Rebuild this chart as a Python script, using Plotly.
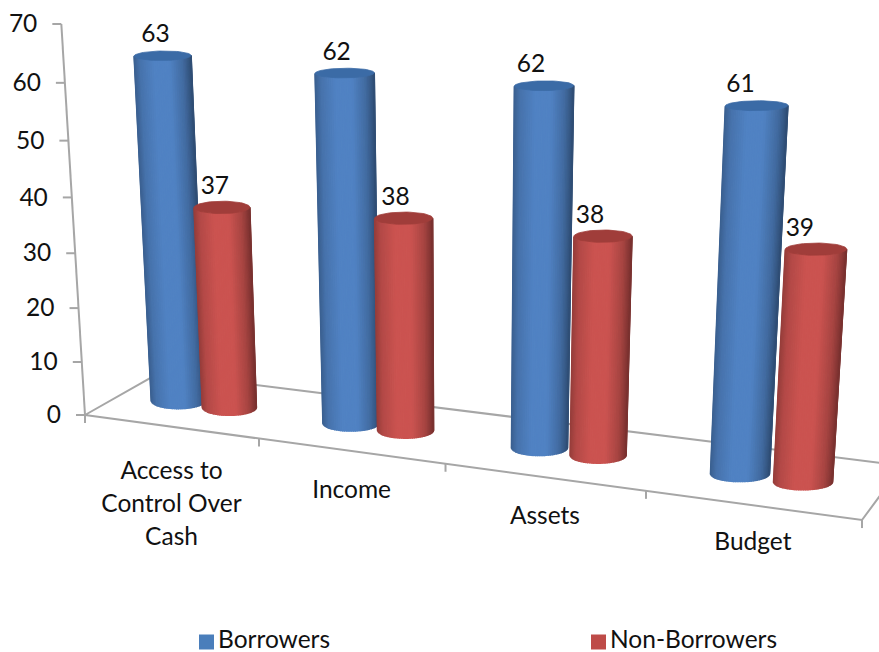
import numpy as np
import plotly.graph_objects as go

categories = ["Access to<br>Control Over<br>Cash", "Income", "Assets", "Budget"]
series_names = ["Borrowers", "Non-Borrowers"]
borrowers = [63, 62, 62, 61]
non_borrowers = [37, 38, 38, 39]
value_ticks = [0, 10, 20, 30, 40, 50, 60, 70]

FONT = "Lato"
FONT_SIZE = 24.5
AXIS_GREY = "#a6a6a6"
BASE_COLORS = [(80, 130, 195), (203, 83, 80)]
TOP_COLORS = ["#3b6ba6", "#a03d3a"]
LEGEND_COLORS = ["#4a7ebb", "#be4b48"]

# Projective camera of the 3-D column chart: category axis, depth, value, origin.
CAMERA = np.array([
    [165.3, 82.9, -0.39, 85.0],
    [8.8, -22.3, -5.606, 415.0],
    [-0.03358, 0.0533, -0.000845, 1.0],
])
CATEGORY_CENTRES = [0.48, 1.47, 2.48, 3.48]
CATEGORY_LABEL_DROP = [46, 41, 41, 39]
VALUE_LABEL_SHIFT = [-7, -8, -13, -16]
BAR_OFFSET = 0.15
RING_HALF_WIDTH = [27.0, 28.0, 28.0, 29.5]
RING_HALF_HEIGHT = 8.0
DEPTH = 0.5


def project(x, depth, z):
    x, depth, z = np.broadcast_arrays(x, depth, z)
    pts = np.stack([x, depth, z, np.ones_like(x, dtype=float)])
    u, v, w = CAMERA @ pts
    return u / w, v / w


def shade(base, u):
    # Lighting across a cylinder's visible face, from its left to its right edge.
    k = np.interp(u, [0, 0.1, 0.35, 0.62, 0.85, 1], [0.74, 0.88, 1.0, 1.0, 0.82, 0.6])
    return "rgb({:.0f},{:.0f},{:.0f})".format(*(c * k for c in base))


fig = go.Figure()


def polygon(xs, ys, color, width=1.6):
    fig.add_trace(go.Scatter(
        x=list(xs), y=list(ys), mode="lines", fill="toself", fillcolor=color,
        line=dict(color=color, width=width), hoverinfo="skip", showlegend=False,
    ))


def line(xs, ys):
    fig.add_trace(go.Scatter(
        x=list(xs), y=list(ys), mode="lines", line=dict(color=AXIS_GREY, width=2),
        hoverinfo="skip", showlegend=False,
    ))


def floor_ring(cx, half_width, t):
    # A floor-level ring that reads as a level ellipse on screen: offsets are
    # pulled back through the camera's local Jacobian on the floor plane.
    eps = 1e-3
    x0, y0 = project(cx, DEPTH, 0.0)
    xa, ya = project(cx + eps, DEPTH, 0.0)
    xb, yb = project(cx, DEPTH + eps, 0.0)
    jac = np.array([[xa - x0, xb - x0], [ya - y0, yb - y0]]) / eps
    offs = np.linalg.solve(jac, np.stack([half_width * np.cos(t), RING_HALF_HEIGHT * np.sin(t)]))
    return cx + offs[0], DEPTH + offs[1]


def cylinder(cx, value, half_width, base, top_color):
    # Front half of the ring runs along the lower side of the ellipse on screen.
    t = np.linspace(np.pi, 0, 41)
    rx, ry = floor_ring(cx, half_width, t)
    bx, by = project(rx, ry, 0.0)
    tx, ty = project(rx, ry, float(value))
    left, right = tx.min(), tx.max()
    for i in range(len(t) - 1):
        qx = [bx[i], bx[i + 1], tx[i + 1], tx[i]]
        qy = [by[i], by[i + 1], ty[i + 1], ty[i]]
        polygon(qx, qy, shade(base, (np.mean(qx[2:]) - left) / (right - left)))
    full = np.linspace(0, 2 * np.pi, 61)
    rx, ry = floor_ring(cx, half_width, full)
    tx, ty = project(rx, ry, float(value))
    polygon(tx, ty, top_color, width=0.8)


# Floor outline and category ticks
ends_x = np.array([0.0, 4.0, 4.0, 0.0, 0.0])
ends_d = np.array([0.0, 0.0, 1.0, 1.0, 0.0])
fx, fy = project(ends_x, ends_d, 0.0)
line(fx, fy)
for c in range(5):
    px, py = project(float(c), 0.0, 0.0)
    line([px, px], [py, py + 8])

# Value axis, ticks and labels
ax, ay = project(0.0, 0.0, np.array(value_ticks, dtype=float))
line(ax, ay)
for px, py in zip(ax, ay):
    line([px - 9, px], [py, py])
fig.add_trace(go.Scatter(
    x=list(ax - 24), y=list(ay + 2), mode="text", text=[str(v) for v in value_ticks],
    textposition="middle left", textfont=dict(family=FONT, size=FONT_SIZE, color="#111111"),
    hoverinfo="skip", showlegend=False, cliponaxis=False,
))

# Columns, painted from the far side of the floor towards the viewer
label_x, label_y, label_text = [], [], []
for c, centre in enumerate(CATEGORY_CENTRES):
    for s, values in enumerate([borrowers, non_borrowers]):
        cx = centre + (2 * s - 1) * BAR_OFFSET
        cylinder(cx, values[c], RING_HALF_WIDTH[c], BASE_COLORS[s], TOP_COLORS[s])
        px, py = project(cx, DEPTH, float(values[c]))
        label_x.append(float(px) + VALUE_LABEL_SHIFT[c])
        label_y.append(float(py) - 19.5)
        label_text.append(str(values[c]))

fig.add_trace(go.Scatter(
    x=label_x, y=label_y, mode="text", text=label_text, textposition="middle center",
    textfont=dict(family=FONT, size=FONT_SIZE, color="#111111"),
    hoverinfo="skip", showlegend=False,
))

# Category labels under the front edge of the floor
cat_x, cat_y, cat_text = [], [], []
for c, name in enumerate(categories):
    px, py = project(c + 0.5, 0.0, 0.0)
    for k, row in enumerate(name.split("<br>")):
        cat_x.append(float(px) + 1)
        cat_y.append(float(py) + CATEGORY_LABEL_DROP[c] + 33 * k)
        cat_text.append(row)
fig.add_trace(go.Scatter(
    x=cat_x, y=cat_y, mode="text", text=cat_text, textposition="middle center",
    textfont=dict(family=FONT, size=FONT_SIZE, color="#111111"),
    hoverinfo="skip", showlegend=False,
))

# Legend row
fig.add_trace(go.Scatter(
    x=[206.5, 598.5], y=[642, 642], mode="markers",
    marker=dict(symbol="square", size=15, color=LEGEND_COLORS, line=dict(width=0)),
    hoverinfo="skip", showlegend=False,
))
fig.add_trace(go.Scatter(
    x=[218, 610], y=[642, 642], mode="text", text=series_names, textposition="middle right",
    textfont=dict(family=FONT, size=FONT_SIZE, color="#111111"),
    hoverinfo="skip", showlegend=False, cliponaxis=False,
))

fig.update_layout(
    width=879, height=652, margin=dict(l=0, r=0, t=0, b=0),
    paper_bgcolor="white", plot_bgcolor="white", showlegend=False,
    xaxis=dict(range=[0, 879], visible=False, fixedrange=True),
    yaxis=dict(range=[652, 0], visible=False, fixedrange=True),
)
fig.write_html("out.html", config={"displayModeBar": False})
